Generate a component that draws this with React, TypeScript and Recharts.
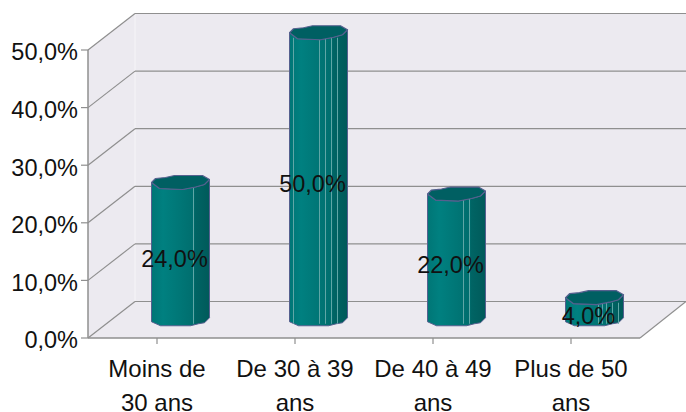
import { Bar, BarChart, LabelList, XAxis, YAxis } from "recharts";

const categories = ["Moins de\n30 ans", "De 30 à 39\nans", "De 40 à 49\nans", "Plus de 50\nans"];
const shares = [24, 50, 22, 4];
const yTicks = [0, 10, 20, 30, 40, 50];

const data = categories.map((name, i) => ({ name, share: shares[i] }));

const WIDTH = 686;
const HEIGHT = 412;
const FONT = "'Liberation Sans', Arial, sans-serif";
const LEFT = 88;
const RIGHT = 640;
const TOP = 50;
const BOTTOM = 338;
const DEPTH_X = 47;
const DEPTH_Y = 36.5;
const GRID = "#8f8f8f";
const WALL = "#ecEaf0";
const OUTLINE = "#56608f";

const fmt = (v: number) => `${v.toFixed(1).replace(".", ",")}%`;
const yOf = (v: number) => BOTTOM - ((BOTTOM - TOP) * v) / 50;

// lighter seams on the columns, differs per bar in the original
const seams = [[13], [-25, 1, 7, 13, 19], [7, 13], [4, 8, 12, 18, 24]];

const topEdge = [[-29, 1], [-25, -3], [-15, -4], [-6, -6], [22, -6], [29, -2], [24, 3], [15, 5.5], [2, 8], [-21, 7]];
const frontTop = [[29, -2], [24, 3], [15, 5.5], [2, 8], [-21, 7], [-29, 1]];
const frontBottom = [[-29, 2], [-20, 6], [10, 6], [18, 4], [24, 3], [29, -2]];

function Walls() {
  return (
    <g>
      <polygon
        points={`${LEFT},${TOP} ${LEFT + DEPTH_X},${TOP - DEPTH_Y} ${WIDTH},${TOP - DEPTH_Y} ${WIDTH},${BOTTOM - DEPTH_Y} ${RIGHT},${BOTTOM} ${LEFT},${BOTTOM}`}
        fill={WALL}
      />
      <line x1={LEFT + DEPTH_X} x2={LEFT + DEPTH_X} y1={TOP - DEPTH_Y} y2={BOTTOM - DEPTH_Y} stroke="#f6f5f8" />
      {yTicks.map((t) => (
        <g key={t} stroke={GRID} strokeWidth={1.2}>
          <line x1={LEFT} y1={yOf(t)} x2={LEFT + DEPTH_X} y2={yOf(t) - DEPTH_Y} />
          <line x1={LEFT + DEPTH_X} y1={yOf(t) - DEPTH_Y} x2={WIDTH} y2={yOf(t) - DEPTH_Y} />
        </g>
      ))}
      <line x1={RIGHT} y1={BOTTOM} x2={WIDTH} y2={BOTTOM - DEPTH_Y} stroke={GRID} strokeWidth={1.2} />
    </g>
  );
}

function Column(props: any) {
  const { x, y, width, height, index } = props;
  const cx = x + width / 2 + DEPTH_X / 2;
  const topY = y - DEPTH_Y / 2;
  const baseY = y + height - DEPTH_Y / 2;
  const pts = (edge: number[][], oy: number) => edge.map(([dx, dy]) => `${cx + dx},${oy + dy}`).join(" ");
  return (
    <g>
      <polygon
        points={`${pts(frontTop, topY)} ${pts(frontBottom, baseY)}`}
        fill="url(#columnShade)"
        stroke={OUTLINE}
        strokeWidth={1}
        strokeLinejoin="round"
      />
      {seams[index].map((dx) => (
        <line key={dx} x1={cx + dx} x2={cx + dx} y1={topY + 6} y2={baseY + 4} stroke="#5fa6a6" strokeWidth={1} />
      ))}
      <polygon points={pts(topEdge, topY)} fill="#005f62" stroke={OUTLINE} strokeWidth={1.2} strokeLinejoin="round" />
    </g>
  );
}

function CategoryTick({ x, y, payload }: any) {
  const lines = String(payload.value).split("\n");
  return (
    <text textAnchor="middle" fontFamily={FONT} fontSize={24} fill="#111">
      {lines.map((l, i) => (
        <tspan key={l} x={x} y={y + 31 + i * 34}>
          {l}
        </tspan>
      ))}
    </text>
  );
}

function ValueLabel({ x, y, width, height, value }: any) {
  return (
    <text
      x={x + width / 2 + DEPTH_X / 2 - 6}
      y={y + height / 2 - 10}
      textAnchor="middle"
      dominantBaseline="central"
      fontFamily={FONT}
      fontSize={23.5}
      fill="#111"
    >
      {fmt(value)}
    </text>
  );
}

export default function App() {
  return (
    <div style={{ position: "absolute", left: 0, top: 0, width: WIDTH, height: HEIGHT, background: "#fff" }}>
      <BarChart
        width={WIDTH}
        height={HEIGHT}
        data={data}
        barSize={58}
        margin={{ top: TOP, right: WIDTH - RIGHT, bottom: 0, left: 0 }}
      >
        <defs>
          <linearGradient id="columnShade" x1="0" x2="1" y1="0" y2="0">
            <stop offset="0" stopColor="#007676" />
            <stop offset="0.2" stopColor="#008080" />
            <stop offset="0.5" stopColor="#007676" />
            <stop offset="0.72" stopColor="#006e6e" />
            <stop offset="0.76" stopColor="#006464" />
            <stop offset="1" stopColor="#005a5a" />
          </linearGradient>
        </defs>
        <Walls />
        <XAxis
          dataKey="name"
          height={HEIGHT - BOTTOM}
          interval={0}
          tick={<CategoryTick />}
          tickSize={6}
          stroke={GRID}
          axisLine={{ stroke: GRID, strokeWidth: 1.5 }}
          tickLine={{ stroke: GRID, strokeWidth: 1.2 }}
        />
        <YAxis
          width={LEFT}
          domain={[0, 50]}
          ticks={yTicks}
          tickFormatter={fmt}
          tickSize={7}
          tickMargin={3}
          axisLine={{ stroke: GRID, strokeWidth: 1.5 }}
          tickLine={{ stroke: GRID, strokeWidth: 1.2 }}
          tick={{ fill: "#111", fontFamily: FONT, fontSize: 23.5, dy: 2 }}
        />
        <Bar dataKey="share" shape={<Column />} isAnimationActive={false}>
          <LabelList dataKey="share" content={<ValueLabel />} />
        </Bar>
      </BarChart>
    </div>
  );
}
